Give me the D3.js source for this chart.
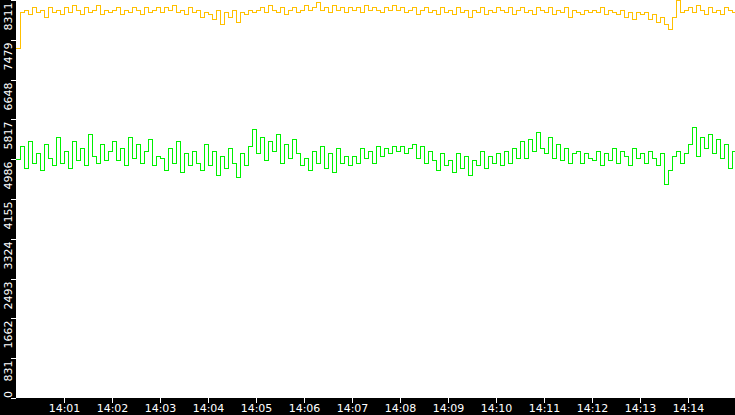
<!DOCTYPE html>
<html><head><meta charset="utf-8">
<script src="https://cdn.jsdelivr.net/npm/d3@7"></script>
<style>body{margin:0;background:#fff}text{font-family:"DejaVu Sans",sans-serif;font-size:11px;fill:#fff}</style>
</head><body><svg id="chart" width="735" height="415"></svg>
<script>
// samples every 5 s from 14:00:00
const stepSeconds = 5;
const greenValues = [
4980,5250,4800,5350,4900,5100,4750,5300,5000,4850,5450,4900,
5150,4800,5350,4950,5200,4850,5500,5050,4900,5300,4950,5150,
5350,4950,5200,4850,5450,5000,5300,4900,5150,5400,4850,5050,
5000,4750,5200,4900,5350,4700,5100,4850,5150,4900,4750,5300,
4850,5150,4650,5050,4800,5200,4900,4600,5100,4850,5250,5600,
5100,5450,4950,5350,5150,5500,4900,5300,5000,5400,5100,4850,
5000,4750,5150,4900,5250,4800,5100,4700,5200,4900,5050,4850,
5050,4900,5200,5000,5150,4900,5250,5050,5200,5100,5250,5150,
5250,5100,5200,5300,5000,5250,4900,5150,4950,4750,5100,4850,
4950,4700,5100,4800,5050,4650,4950,4850,5150,4800,5050,4900,
5100,4850,5150,4900,5200,5000,5350,5000,5400,5150,5550,5200,
5100,5450,5000,5300,4950,5200,4900,5100,5150,4900,5100,5000,
4950,5150,4850,5100,4950,5200,4900,5150,5050,4850,5200,5000,
5100,4900,5150,5000,4850,5100,4450,4750,5050,5150,4900,5100,
5300,5650,5050,5450,5200,5500,5100,5400,5000,5300,4800,5150,2600];
const yellowValues = [
7300,8050,8100,8000,8150,8050,8100,7950,8150,8050,8100,8000,
8150,8050,8200,8100,8000,8150,8050,8100,8200,8000,8100,8050,
8100,8150,8000,8100,8050,8150,8100,8000,8150,8050,8100,8150,
8050,8150,8100,8200,8050,8100,8000,8150,8050,8100,7950,8050,
8000,7900,8100,7800,8050,7950,8100,7850,8050,8000,8100,8050,
8100,8150,8050,8200,8100,8050,8150,8000,8100,8150,8050,8100,
8200,8100,8150,8250,8100,8150,8050,8200,8100,8150,8050,8150,
8100,8150,8050,8200,8100,8150,8100,8050,8150,8100,8200,8100,
8150,8050,8100,8150,8000,8100,8150,8050,8100,8000,8150,8050,
8100,8000,8150,8050,8100,7950,8100,8050,8150,8000,8100,8050,
8150,8100,8050,8150,8000,8100,8150,8050,8100,8000,8150,8100,
8050,8150,8000,8100,8050,8150,7950,8100,8050,8000,8100,8050,
8100,8050,8150,8000,8100,8050,8000,8100,7950,8050,7900,8050,
8000,8050,7900,8000,7850,7950,7800,7700,7950,8300,8050,8100,
8150,8050,8200,8100,8000,8150,8050,8100,8000,8150,8100,8050,0];
const yTicks = [0,831,1662,2493,3324,4155,4986,5817,6648,7479,8311];
const xTickLabels = ["14:01","14:02","14:03","14:04","14:05","14:06","14:07","14:08","14:09","14:10","14:11","14:12","14:13","14:14"];

const W = 735, H = 415, left = 16, bottom = 398;
const svg = d3.select("#chart");
const t0 = new Date(2020,0,1,14,0,0);
const timeOf = i => new Date(t0.getTime() + i*stepSeconds*1000);
const x = d3.scaleTime().domain([t0, new Date(2020,0,1,14,15,0)]).range([left, W+1]);
const y = d3.scaleLinear().domain([0, 8311]).range([bottom, 0]);

svg.append("rect").attr("x",0).attr("y",0).attr("width",left).attr("height",H).attr("fill","#000");
svg.append("rect").attr("x",0).attr("y",bottom).attr("width",W).attr("height",H-bottom).attr("fill","#000");

const line = d3.line().curve(d3.curveStepAfter).x((d,i) => x(timeOf(i))).y(d => y(d));
[[yellowValues,"#ffc000"],[greenValues,"#00f000"]].forEach(([vals,col]) => {
  svg.append("path").datum(vals).attr("d", line).attr("fill","none")
    .attr("stroke",col).attr("stroke-width",1).attr("shape-rendering","crispEdges");
});

// y axis
const yg = svg.append("g");
yTicks.forEach(v => {
  const py = Math.round(y(v)) + 0.5;
  yg.append("line").attr("x1",11).attr("x2",left).attr("y1",py).attr("y2",py).attr("stroke","#fff");
  const ty = v === 0 ? bottom : Math.max(py + 2, 2);
  yg.append("text").attr("transform",`translate(12,${ty}) rotate(-90)`)
    .attr("text-anchor", v === 0 ? "start" : "end").text(v);
});

// x axis
const xg = svg.append("g");
xTickLabels.forEach((lab, i) => {
  const px = Math.round(x(new Date(2020,0,1,14,i+1,0))) + 0.5;
  xg.append("line").attr("x1",px).attr("x2",px).attr("y1",bottom).attr("y2",bottom+5).attr("stroke","#fff");
  xg.append("text").attr("x",px).attr("y",412).attr("text-anchor","middle").text(lab);
});
</script></body></html>
